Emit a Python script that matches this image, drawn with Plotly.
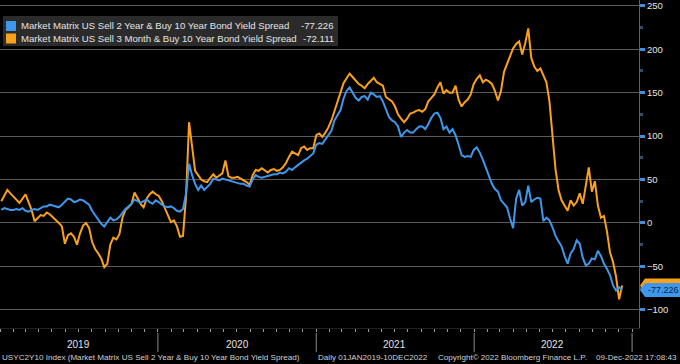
import plotly.graph_objects as go
import pandas as pd

# Weekly observations (Fridays) from 04-Jan-2019 to 09-Dec-2022
start_date = "2019-01-04"
n_weeks = 206
dates = pd.date_range(start_date, periods=n_weeks, freq="7D")

series_2s10s_name = "Market Matrix US Sell 2 Year & Buy 10 Year Bond Yield Spread"
series_3m10y_name = "Market Matrix US Sell 3 Month & Buy 10 Year Bond Yield Spread"
last_2s10s = -77.226
last_3m10y = -72.111

spread_2s10s = [
    15, 17, 16, 15, 15, 16, 15, 17, 14, 13,
    15, 16, 15, 17, 19, 19, 21, 20, 19, 18,
    21, 25, 28, 27, 24, 25, 27, 26, 23, 21,
    14, 9, 4, -1, -4, 1, 6, 3, 4, 7,
    12, 16, 19, 22, 27, 25, 23, 25, 27, 24,
    22, 26, 24, 21, 19, 18, 19, 17, 14, 13,
    16, 34, 68, 55, 45, 38, 43, 38, 41, 45,
    51, 50, 49, 51, 50, 49, 48, 47, 46, 45,
    45, 43, 42, 50, 55, 53, 52, 53, 54, 55,
    56, 56, 58, 57, 59, 63, 61, 64, 67, 69,
    72, 74, 77, 80, 90, 92, 91, 96, 101, 106,
    118, 124, 130, 143, 152, 156, 150, 144, 141, 145,
    146, 142, 150, 148, 145, 146, 140, 132, 122, 118,
    116, 111, 99, 104, 107, 104, 104, 108, 111, 111,
    108, 114, 121, 126, 127, 121, 108, 111, 104, 108,
    101, 90, 78, 76, 77, 76, 84, 87, 81, 73,
    64, 55, 45, 39, 36, 26, 22, 18, 5, -6,
    28, 38, 20, 24, 43, 24, 27, 29, 28, 2,
    6, 3, -5, -15, -21, -27, -38, -47, -35, -30,
    -20, -24, -40, -49, -47, -41, -42, -32, -38, -47,
    -53, -60, -72, -78, -74, last_2s10s,
]

spread_3m10y = [
    25, 31, 38, 34, 30, 26, 23, 28, 33, 24,
    15, 2, 6, 9, 8, 12, 10, 7, 4, 0,
    -4, -24, -14, -12, -16, -25, -12, -3, 0, -6,
    -22, -30, -35, -41, -51, -47, -25, -17, -19, -13,
    6, 15, 18, 22, 35, 28, 22, 18, 28, 33,
    36, 33, 31, 25, 17, 10, 1, 3, -4, -16,
    -15, 30, 116, 88, 60, 55, 50, 48, 47, 52,
    56, 52, 55, 57, 72, 54, 52, 52, 53, 51,
    49, 47, 44, 55, 61, 60, 63, 60, 58, 61,
    62, 60, 61, 64, 69, 76, 82, 80, 78, 86,
    88, 84, 86, 86, 101, 103, 99, 104, 110, 118,
    128, 138, 150, 161, 167, 172, 168, 164, 160, 158,
    155, 160, 164, 167, 162, 160, 158, 145, 143, 140,
    134, 125, 120, 116, 120, 126, 127, 129, 130, 128,
    131, 140, 144, 148, 156, 162, 149, 153, 150, 150,
    158, 142, 134, 139, 142, 148, 160, 166, 170, 162,
    165, 163, 160, 152, 141, 152, 174, 184, 192, 201,
    206, 209, 194, 207, 224, 190, 180, 175, 178, 170,
    162, 140, 100, 62, 38, 26, 20, 14, 26, 20,
    24, 34, 22, 45, 64, 36, 48, 20, 6, 8,
    -10, -34, -45, -62, -88, last_3m10y,
]

year_labels = ["2019", "2020", "2021", "2022"]
year_mid_dates = ["2019-07-02", "2020-07-02", "2021-07-02", "2022-07-02"]
year_start_dates = ["2020-01-01", "2021-01-01", "2022-01-01", "2023-01-01"]
y_ticks = [-100, -50, 0, 50, 100, 150, 200, 250]

BLUE = "#3f97ec"
ORANGE = "#f9a11b"
BG = "#000000"
GRID = "#5a5a5a"
TXT = "#e4e4e4"
FONT = "Liberation Sans, Arial, sans-serif"

W, H = 680, 364
ML, MR, MT, MB = 0, 41, 0, 36
PW = W - ML - MR
PH = H - MT - MB
Y_LO, Y_HI = -121.0, 256.7


def px_x(px):
    return (px - ML) / PW


def px_y(py):
    return (MT + PH - py) / PH


fig = go.Figure()
fig.add_trace(go.Scatter(x=dates, y=spread_3m10y, mode="lines",
                         line=dict(color=ORANGE, width=2), name=series_3m10y_name))
fig.add_trace(go.Scatter(x=dates, y=spread_2s10s, mode="lines",
                         line=dict(color=BLUE, width=2), name=series_2s10s_name))

shapes = []
annotations = []

# Legend box
shapes.append(dict(type="rect", xref="paper", yref="paper",
                   x0=px_x(3), x1=px_x(338), y0=px_y(46), y1=px_y(16),
                   fillcolor="#2b2b2b", line=dict(width=0), layer="above"))
legend_rows = [(series_2s10s_name, last_2s10s, BLUE, 26),
               (series_3m10y_name, last_3m10y, ORANGE, 38.5)]
for name, val, col, cy in legend_rows:
    shapes.append(dict(type="rect", xref="paper", yref="paper",
                       x0=px_x(6), x1=px_x(16), y0=px_y(cy + 5), y1=px_y(cy - 5),
                       fillcolor=col, line=dict(width=0), layer="above"))
    annotations.append(dict(xref="paper", yref="paper", x=px_x(19), y=px_y(cy),
                            text=name, showarrow=False, xanchor="left", yanchor="middle",
                            font=dict(family=FONT, size=9.6, color=TXT)))
    annotations.append(dict(xref="paper", yref="paper", x=px_x(336), y=px_y(cy),
                            text=f"{val:.3f}", showarrow=False, xanchor="right", yanchor="middle",
                            font=dict(family=FONT, size=9.6, color=TXT)))

# Last value tags on right axis
unit_px = PH / (Y_HI - Y_LO)
half = 7.0 / unit_px
for val, col in [(last_3m10y, ORANGE), (last_2s10s, BLUE)]:
    x0 = 1.0 + 1 / PW
    x1 = 1.0 + 6 / PW
    x2 = 1.0 + 44 / PW
    path = (f"M {x0} {val} L {x1} {val + half} L {x2} {val + half} "
            f"L {x2} {val - half} L {x1} {val - half} Z")
    shapes.append(dict(type="path", xref="paper", yref="y", path=path,
                       fillcolor=col, line=dict(width=0), layer="above"))
annotations.append(dict(xref="paper", yref="y", x=1.0 + 24 / PW, y=last_2s10s,
                        text=f"{last_2s10s:.3f}", showarrow=False,
                        xanchor="center", yanchor="middle",
                        font=dict(family=FONT, size=9, color="#0b2440")))

# Year dividers and labels
for d in year_start_dates:
    shapes.append(dict(type="line", xref="x", yref="paper", x0=d, x1=d,
                       y0=px_y(333), y1=px_y(352), line=dict(color="#8a8a8a", width=1)))
for lab, d in zip(year_labels, year_mid_dates):
    annotations.append(dict(xref="x", yref="paper", x=d, y=px_y(344), text=lab,
                            showarrow=False, xanchor="center", yanchor="middle",
                            font=dict(family=FONT, size=10, color=TXT)))

# Footer
footer_parts = [
    ("USYC2Y10 Index (Market Matrix US Sell 2 Year & Buy 10 Year Bond Yield Spread)", 0),
    ("Daily 01JAN2019-10DEC2022", 316),
    ("Copyright\u00a9 2022 Bloomberg Finance L.P.", 436),
    ("09-Dec-2022 17:08:43", 594),
]
for txt, xpx in footer_parts:
    annotations.append(dict(xref="paper", yref="paper", x=px_x(xpx), y=px_y(357),
                            text=txt, showarrow=False, xanchor="left", yanchor="middle",
                            font=dict(family=FONT, size=8.1, color="#d0d0d0")))

fig.update_layout(
    width=W, height=H,
    margin=dict(l=ML, r=MR, t=MT, b=MB, pad=0),
    paper_bgcolor=BG, plot_bgcolor=BG,
    showlegend=False,
    shapes=shapes, annotations=annotations,
    xaxis=dict(range=["2019-01-01", "2023-01-17"], showgrid=False, zeroline=False,
               automargin=False,
               showticklabels=False, ticks="outside", dtick="M1", tick0="2019-01-01",
               ticklen=3, tickcolor="#9a9a9a", showline=True, linecolor="#222222"),
    yaxis=dict(range=[Y_LO, Y_HI], side="right", tickvals=y_ticks, automargin=False,
               showgrid=True, gridcolor=GRID, gridwidth=1, zeroline=False,
               showline=True, linecolor="#2f6db3", linewidth=1,
               ticks="outside", ticklen=5, tickwidth=3, tickcolor="#3f8fe0",
               minor=dict(dtick=25, ticks="outside", ticklen=3, tickcolor="#2f4f70", showgrid=False),
               tickfont=dict(family=FONT, size=9.5, color=TXT)),
)

fig.write_html(
    "out.html",
    config={"displayModeBar": False},
    post_script="document.body.style.margin='0';document.body.style.overflow='hidden';"
                "document.body.style.background='#000';",
)
